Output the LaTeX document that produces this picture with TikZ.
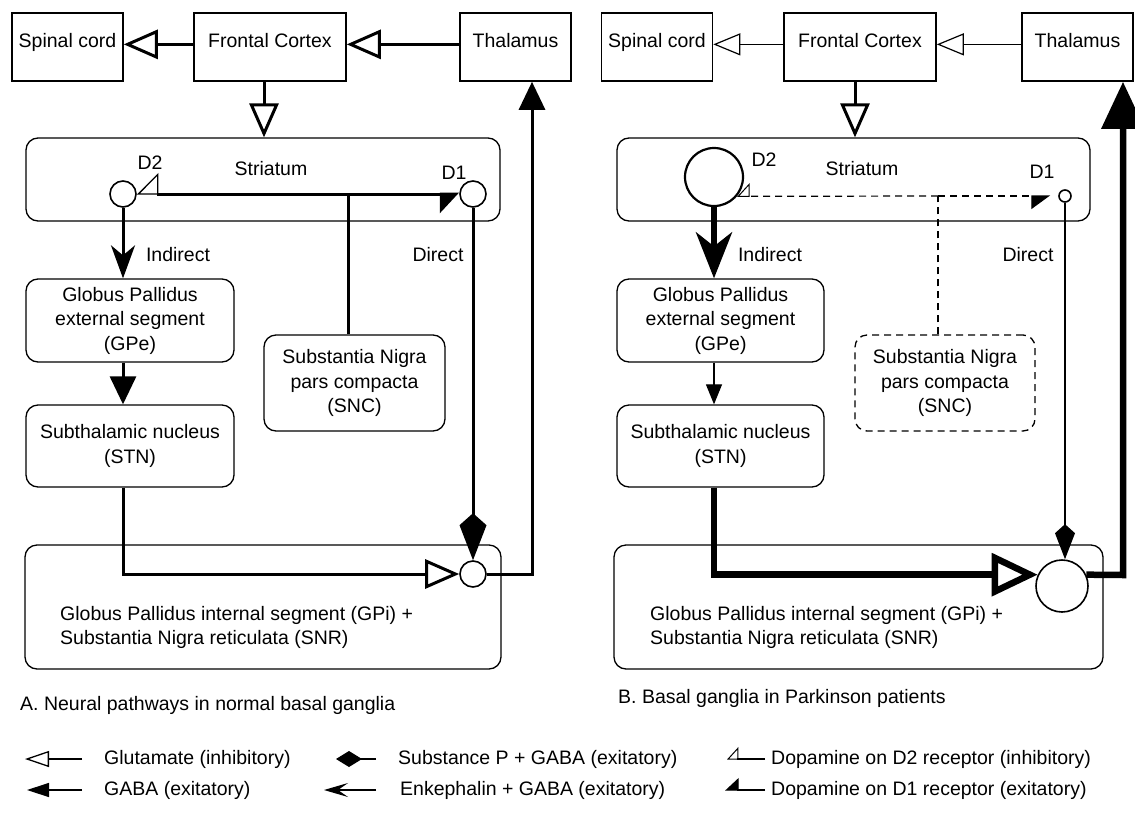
\documentclass[tikz,border=0pt]{standalone}
\usepackage{fontspec}
\setmainfont{Liberation Sans}
\usetikzlibrary{arrows.meta}

\begin{document}
\begin{tikzpicture}[
    x=1pt, y=-1pt,
    every node/.style={font=\fontsize{19.5}{24.5}\selectfont, inner sep=0pt},
    topbox/.style={draw, line width=1.6pt, minimum width=111pt, minimum height=68pt, text height=12pt, text depth=12pt},
    region/.style={draw, line width=1.3pt, rounded corners=12pt, align=center},
    cell/.style={circle, draw, line width=1.6pt, fill=white},
    heavy/.style={line width=3pt},
    fine/.style={line width=1.2pt},
    bold/.style={line width=6.5pt},
    key/.style={line width=1.3pt},
    glu/.style={-{Triangle[open, length=34pt, width=29pt]}},
    gaba/.style={-{Triangle[length=28pt, width=26pt]}},
    enk/.style={-{Stealth[length=33pt, width=24pt, inset=10pt]}},
    subp/.style={-{Kite[length=47pt, width=27pt, inset=12pt]}},
    dtwo/.style={-{Triangle[open, right, length=21pt, width=42pt, line width=1.3pt]}},
    done/.style={-{Triangle[right, length=18pt, width=38pt]}}
]
\useasboundingbox (0,0) rectangle (1135,814);

% A. normal basal ganglia
\node[topbox] (spinalA) at (67.5,47) {Spinal cord};
\node[topbox, minimum width=152pt] (cortexA) at (270,47) {Frontal Cortex};
\node[topbox] (thalA) at (515.5,47) {Thalamus};
\node[region, minimum width=474pt, minimum height=83pt] (striA) at (263,179.5) {};
\node (strlabA) at (271,169) {Striatum};
\node[region, minimum width=208pt, minimum height=83pt] (gpeA) at (130,320.5) {Globus Pallidus\\external segment\\(GPe)};
\node[region, minimum width=208pt, minimum height=82pt] (stnA) at (130,446) {Subthalamic nucleus\\(STN)};
\node[region, minimum width=181pt, minimum height=96pt] (sncA) at (354.5,383) {Substantia Nigra\\pars compacta\\(SNC)};
\node[region, minimum width=476pt, minimum height=124pt] (gpibA) at (263,607) {};
\node[anchor=west, align=left] (gpitxtA) at (60,627.5) {Globus Pallidus internal segment (GPi) +\\Substantia Nigra reticulata (SNR)};

\node[cell, minimum size=26pt] (d2A) at (123,194) {};
\node[cell, minimum size=26pt] (d1A) at (473,194) {};
\node[cell, minimum size=26pt] (gpiA) at (473,574) {};
\coordinate (snjA) at (348,194);
\coordinate (upA) at (532,574);

\node (d2labA) at (150,163) {D2};
\node (d1labA) at (454,173) {D1};
\node (indA) at (178,255) {Indirect};
\node (dirA) at (438,255) {Direct};

\draw[heavy, glu] (cortexA.mid west) -- (spinalA.mid east);
\draw[heavy, glu] (thalA.mid west) -- (cortexA.mid east);
\draw[heavy, glu] ([xshift=-6pt]cortexA.south) -- ([xshift=-6pt]cortexA.south |- striA.north);
\draw[heavy] (sncA.north -| snjA) -- (snjA);
\draw[heavy, dtwo] (snjA) -- (d2A);
\draw[heavy, done] (snjA) -- (d1A);
\draw[heavy, enk] (d2A) -- (d2A |- gpeA.north);
\draw[heavy, gaba] (gpeA.south -| d2A) -- (stnA.north -| d2A);
\draw[heavy, glu] (stnA.south -| d2A) |- (gpiA);
\draw[heavy, subp] (d1A) -- (gpiA);
\draw[heavy, gaba] (gpiA) -- (upA) -- (upA |- thalA.south);

% B. Parkinson
\node[topbox] (spinalB) at (657,47) {Spinal cord};
\node[topbox, minimum width=152pt] (cortexB) at (860,47) {Frontal Cortex};
\node[topbox] (thalB) at (1077.5,47) {Thalamus};
\node[region, minimum width=473pt, minimum height=83pt] (striB) at (853.5,179.5) {};
\node (strlabB) at (862,169) {Striatum};
\node[region, minimum width=207pt, minimum height=83pt] (gpeB) at (720.5,320.5) {Globus Pallidus\\external segment\\(GPe)};
\node[region, minimum width=207pt, minimum height=82pt] (stnB) at (720.5,446) {Subthalamic nucleus\\(STN)};
\node[region, dash pattern=on 7pt off 5pt, minimum width=180pt, minimum height=96pt] (sncB) at (945,383) {Substantia Nigra\\pars compacta\\(SNC)};
\node[region, minimum width=489pt, minimum height=124pt] (gpibB) at (858.5,607) {};
\node[anchor=west, align=left] (gpitxtB) at (650,627.5) {Globus Pallidus internal segment (GPi) +\\Substantia Nigra reticulata (SNR)};

\node[cell, line width=2.2pt, minimum size=58pt] (d2B) at (714,177) {};
\node[cell, minimum size=12pt] (d1B) at (1065,196) {};
\node[cell, minimum size=52pt] (gpiB) at (1062,586) {};
\coordinate (snjB) at (938,196);
\coordinate (upB) at (1123,575);

\node (d2labB) at (764,160) {D2};
\node (d1labB) at (1042,172) {D1};
\node (indB) at (770,255) {Indirect};
\node (dirB) at (1028,255) {Direct};

\draw[fine, -{Triangle[open, length=27pt, width=22pt]}] (cortexB.mid west) -- (spinalB.mid east);
\draw[fine, -{Triangle[open, length=27pt, width=22pt]}] (thalB.mid west) -- (cortexB.mid east);
\draw[heavy, glu] ([xshift=-5pt]cortexB.south) -- ([xshift=-5pt]cortexB.south |- striB.north);
\draw[fine, dash pattern=on 7pt off 5pt] (sncB.north -| snjB) -- (snjB);
\draw[fine, dash pattern=on 7pt off 5pt, -{Triangle[open, right, length=12pt, width=26pt, line width=1pt]}] (snjB) -- (d2B.-40);
\draw[fine, dash pattern=on 7pt off 5pt, -{Triangle[right, length=18pt, width=26pt]}] (snjB) -- ([xshift=-8pt]d1B.west);
\draw[bold, -{Stealth[length=46pt, width=36pt, inset=14pt]}] (d2B) -- (d2B |- gpeB.north);
\draw[fine, -{Triangle[length=20pt, width=16pt]}] (gpeB.south -| d2B) -- (stnB.north -| d2B);
\draw[bold, -{Triangle[open, length=46pt, width=42pt]}] (stnB.south -| d2B) |- (gpiB.155);
\draw[fine, -{Kite[length=35pt, width=20pt, inset=9pt]}] (d1B) -- (d1B |- gpiB.north);
\draw[bold, -{Triangle[length=47pt, width=42pt]}] (gpiB.25) -- (upB) -- (upB |- thalB.south);

% captions
\node[anchor=west] (capA) at (20,705) {A. Neural pathways in normal basal ganglia};
\node[anchor=west] (capB) at (618,698) {B. Basal ganglia in Parkinson patients};

% legend
\coordinate (k1a) at (82,759);  \coordinate (k1b) at (25,759);
\coordinate (k2a) at (82,790);  \coordinate (k2b) at (27,790);
\coordinate (k3a) at (376,759); \coordinate (k3b) at (336,759);
\coordinate (k4a) at (376,790); \coordinate (k4b) at (324,790);
\coordinate (k5a) at (765,759); \coordinate (k5b) at (727,759);
\coordinate (k6a) at (765,790); \coordinate (k6b) at (725,790);
\draw[key, -{Triangle[open, length=24pt, width=16pt]}] (k1a) -- (k1b);
\draw[key, -{Triangle[length=22pt, width=14pt]}] (k2a) -- (k2b);
\draw[key, -{Kite[length=26pt, width=16pt, inset=13pt]}] (k3a) -- (k3b);
\draw[key, -{Stealth[length=24pt, width=14pt, inset=10pt]}] (k4a) -- (k4b);
\draw[key, -{Triangle[open, right, length=11pt, width=24pt, line width=1pt]}] (k5a) -- (k5b);
\draw[key, -{Triangle[right, length=13pt, width=24pt]}] (k6a) -- (k6b);
\node[anchor=west] (t1) at (104,759) {Glutamate (inhibitory)};
\node[anchor=west] (t2) at (104,790) {GABA (exitatory)};
\node[anchor=west] (t3) at (398,759) {Substance P + GABA (exitatory)};
\node[anchor=west] (t4) at (400,790) {Enkephalin + GABA (exitatory)};
\node[anchor=west] (t5) at (771,759) {Dopamine on D2 receptor (inhibitory)};
\node[anchor=west] (t6) at (771,790) {Dopamine on D1 receptor (exitatory)};

\end{tikzpicture}
\end{document}
